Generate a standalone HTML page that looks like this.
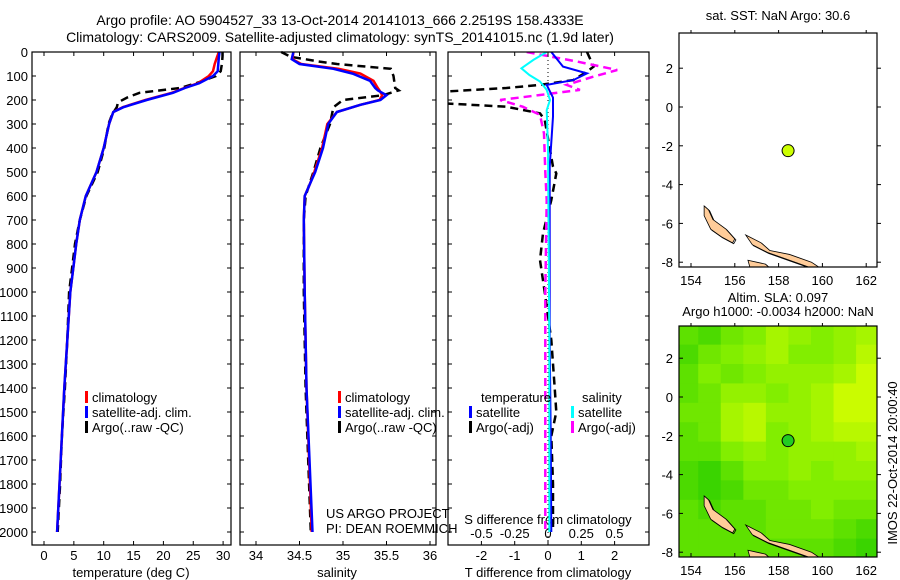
<!DOCTYPE html>
<html><head><meta charset="utf-8"><style>
body{margin:0;background:#fff;}
svg{display:block;font-family:"Liberation Sans",sans-serif;}
</style></head><body>
<svg id="c" width="900" height="580" viewBox="0 0 900 580">
<defs>
<clipPath id="clipTop"><rect x="679" y="33" width="198" height="234"/></clipPath>
<clipPath id="clipBot"><rect x="679" y="326" width="198" height="231"/></clipPath>
<clipPath id="clipDiff"><rect x="448" y="52" width="201" height="493"/></clipPath>
</defs>
<text x="340" y="25" font-size="14" text-anchor="middle">Argo profile: AO 5904527_33 13-Oct-2014 20141013_666 2.2519S 158.4333E</text>
<text x="340" y="42" font-size="14" text-anchor="middle">Climatology: CARS2009. Satellite-adjusted climatology: synTS_20141015.nc (1.9d later)</text>
<g id="g"></g>
</svg>
<script>
// ---- profile data ----
const tDepth=[0,20,50,80,100,130,150,170,200,230,250,300,400,500,600,700,800,900,1000,1200,1400,1600,1800,2000];
const tClim=[29.3,29.0,28.6,28.3,27.6,25.8,23.5,21.4,17.0,13.2,11.6,10.9,10.0,8.8,7.0,6.0,5.4,4.9,4.4,3.9,3.4,3.0,2.6,2.2];
const tSat=[29.4,29.3,29.2,29.1,28.3,26.0,23.6,21.6,17.2,13.3,11.6,10.9,10.0,8.8,7.0,6.0,5.4,4.9,4.4,3.9,3.4,3.0,2.6,2.2];
const tArgoDepth=[0,20,50,80,100,130,150,170,190,210,230,260,300,400,500,600,700,800,900,1000,1200,1400,1600,1800,2000];
const tArgo=[29.9,29.9,29.8,29.6,28.8,25.5,22.8,16.0,13.9,12.4,12.2,11.4,10.8,10.1,9.0,7.1,6.0,5.2,4.7,4.2,3.9,3.5,3.0,2.7,2.3];
const sDepth=[0,30,50,70,90,120,150,160,180,200,220,250,300,400,500,550,600,700,1000,1400,2000];
const sClim=[34.43,34.42,34.52,34.95,35.2,35.35,35.4,35.42,35.45,35.42,35.2,34.93,34.82,34.76,34.67,34.62,34.56,34.55,34.56,34.58,34.64];
const sSat=[34.43,34.41,34.5,34.89,35.11,35.31,35.37,35.4,35.5,35.43,35.2,34.93,34.83,34.77,34.68,34.62,34.56,34.55,34.56,34.58,34.65];
const sArgoDepth=[0,20,40,50,70,100,150,160,180,200,230,300,400,500,600,700,1000,1400,2000];
const sArgo=[34.29,34.4,34.73,34.93,35.55,35.58,35.6,35.64,35.46,35.0,34.89,34.85,34.74,34.66,34.57,34.55,34.55,34.57,34.63];
// ---- difference data ----
const dTSatDepth=[0,61,89,117,137,190,269,478,800,1200,1600,2000];
const dTSat=[0.1,0.45,1.17,0.76,-0.04,0.15,0.15,0.05,0.05,0.05,0.08,0.1];
const dTArgoDepth=[0,61,82,117,137,150,165,214,228,256,283,478,506,617,756,867,1000,1200,1400,1500,1600,1800,2000];
const dTArgo=[1.17,1.37,1.17,0.76,-0.24,-1.25,-3.1,-3.1,-1.25,-0.24,-0.1,0.15,0.25,0.1,-0.15,-0.24,-0.1,0.1,0.2,0.25,0.1,0.15,0.15];
const dSSatDepth=[0,33,68,96,123,158,200,242,400,800,1200,1600,2000];
const dSSat=[-0.01,-0.11,-0.2,-0.14,-0.06,-0.01,0.015,-0.01,0.0,0.005,0.01,0.01,0.01];
const dSArgoDepth=[0,40,75,103,137,158,179,200,228,262,339,500,617,1000,1500,2000];
const dSArgo=[-0.16,0.22,0.52,0.34,0.14,0.24,-0.06,-0.36,-0.19,-0.06,-0.03,-0.02,-0.01,-0.02,-0.02,-0.02];
// ---- axis ticks ----
const depthTicks=[0,100,200,300,400,500,600,700,800,900,1000,1100,1200,1300,1400,1500,1600,1700,1800,1900,2000];
const tempTicks=[0,5,10,15,20,25,30];
const salTicks=[34,34.5,35,35.5,36];
const dTTicks=[-2,-1,0,1,2];
const dSTicks=[-0.5,-0.25,0,0.25,0.5];
const lonTicks=[154,156,158,160,162];
const latTicks=[2,0,-2,-4,-6,-8];
// ---- SLA map grid (rows: lat 3..-8, cols lon 153.5..162.5), 0=green 1=yellow ----
const slaGrid=[
[.3,.2,.4,.5,.7,.6,.5,.6,.7,.8],
[.2,.4,.5,.6,.7,.5,.5,.6,.8,.8],
[.3,.5,.4,.5,.6,.6,.6,.7,.9,.8],
[.3,.4,.6,.6,.5,.6,.7,.9,.9,.9],
[.4,.4,.7,.8,.6,.6,.7,.9,.9,.8],
[.3,.4,.7,.8,.5,.6,.7,.8,.8,.7],
[.3,.3,.5,.6,.5,.6,.6,.6,.7,.7],
[.2,.1,.3,.5,.5,.6,.5,.6,.6,.6],
[.2,.1,.2,.4,.4,.5,.5,.5,.5,.5],
[.3,.2,.3,.3,.4,.4,.5,.4,.4,.4],
[.3,.3,.3,.3,.4,.4,.4,.3,.2,.3],
[.3,.3,.3,.3,.3,.3,.3,.2,.1,.3]];
const argoPos=[158.4333,-2.2519];
const island1=[[154.6,-5.1],[154.8,-5.3],[155.0,-5.8],[155.6,-6.3],[156.0,-6.8],[155.9,-7.0],[155.4,-6.7],[154.9,-6.3],[154.6,-5.6]];
const island2=[[156.5,-6.6],[157.2,-7.0],[157.6,-7.4],[158.5,-7.6],[159.5,-8.0],[159.9,-8.3],[159.5,-8.3],[158.5,-7.9],[157.5,-7.5],[156.8,-7.1]];
const island3=[[156.6,-7.9],[157.0,-8.0],[157.4,-8.1],[157.6,-8.3],[156.7,-8.3]];

const NS='http://www.w3.org/2000/svg';
const G=document.getElementById('g');
function el(tag,attrs,parent){const e=document.createElementNS(NS,tag);for(const k in attrs)e.setAttribute(k,attrs[k]);(parent||G).appendChild(e);return e;}
function txt(x,y,s,size,anchor,name,parent){const t=el('text',{x:x,y:y,'font-size':size,'text-anchor':anchor||'middle'},parent);t.textContent=s;


return t;}
const yD=d=>52+d*0.24;
const BOT=545;
function frame(x0,x1,y0,y1,name){const r=el('rect',{x:x0,y:y0,width:x1-x0,height:y1-y0,fill:'none',stroke:'#000','stroke-width':1.2});

}
function line(depths,vals,xf,color,dash,w,name,parent){const pts=depths.map((d,i)=>xf(vals[i]).toFixed(1)+','+yD(d).toFixed(1)).join(' ');
const p=el('polyline',{points:pts,fill:'none',stroke:color,'stroke-width':w||2.5,'stroke-dasharray':dash||'none'},parent);

}

const xT=t=>44+t*5.97;
const xS=s=>256+(s-34)*87;
const xdT=v=>548+v*33.3;
const xdS=v=>548+v*133;
depthTicks.forEach(d=>{txt(28,yD(d)+5,String(d),13,'end','depth-tick-label');
[[32,36],[231,227],[240,244],[436,432],[448,452],[649,645]].forEach(p=>el('line',{x1:p[0],x2:p[1],y1:yD(d),y2:yD(d),stroke:'#000'}));});
tempTicks.forEach(t=>{txt(xT(t),560,String(t),13,'middle','temp-tick-label');el('line',{x1:xT(t),x2:xT(t),y1:BOT,y2:BOT-4,stroke:'#000'});el('line',{x1:xT(t),x2:xT(t),y1:52,y2:56,stroke:'#000'});});
salTicks.forEach(s=>{txt(xS(s),560,String(s),13,'middle','salinity-tick-label');el('line',{x1:xS(s),x2:xS(s),y1:BOT,y2:BOT-4,stroke:'#000'});el('line',{x1:xS(s),x2:xS(s),y1:52,y2:56,stroke:'#000'});});
dTTicks.forEach(s=>{txt(xdT(s),560,String(s),13,'middle','tdiff-tick-label');el('line',{x1:xdT(s),x2:xdT(s),y1:BOT,y2:BOT-4,stroke:'#000'});el('line',{x1:xdT(s),x2:xdT(s),y1:52,y2:56,stroke:'#000'});});
dSTicks.forEach(s=>{txt(xdS(s),538,String(s),13,'middle','sdiff-tick-label');});
txt(131,577,'temperature (deg C)',13,'middle','temperature-axis-title');
txt(337,577,'salinity',13,'middle','salinity-axis-title');
txt(548,577,'T difference from climatology',13,'middle','tdiff-axis-title');
txt(548,524,'S difference from climatology',13,'middle','sdiff-axis-title');
el('line',{x1:548,x2:548,y1:52,y2:BOT,stroke:'#000','stroke-dasharray':'1,3'});
line(tArgoDepth,tArgo,xT,'#000','8,5',2.5,'temp-argo-line');
line(tDepth,tClim,xT,'#f00','',2.5,'temp-climatology-line');
line(tDepth,tSat,xT,'#00f','',2.5,'temp-satellite-line');
line(sArgoDepth,sArgo,xS,'#000','8,5',2.5,'salinity-argo-line');
line(sDepth,sClim,xS,'#f00','',2.5,'salinity-climatology-line');
line(sDepth,sSat,xS,'#00f','',2.5,'salinity-satellite-line');
const dg=el('g',{'clip-path':'url(#clipDiff)'});
line(dTArgoDepth,dTArgo,xdT,'#000','8,5',2.5,'tdiff-argo-line',dg);
line(dSArgoDepth,dSArgo,xdS,'#f0f','8,5',2.5,'sdiff-argo-line',dg);
line(dTSatDepth,dTSat,xdT,'#00f','',2,'tdiff-satellite-line',dg);
line(dSSatDepth,dSSat,xdS,'#0ff','',2,'sdiff-satellite-line',dg);
frame(32,231,52,BOT,'temperature-panel');
frame(240,436,52,BOT,'salinity-panel');
frame(448,649,52,BOT,'difference-panel');
function leg(x,y,color,label,name){el('rect',{x:x,y:y-11,width:3,height:12,fill:color});txt(x+7,y,label,13,'start',name);}
leg(85,402,'#f00','climatology','legend-climatology');
leg(85,417,'#00f','satellite-adj. clim.','legend-satellite-adj');
leg(85,432,'#000','Argo(..raw -QC)','legend-argo');
leg(338,402,'#f00','climatology','legend-climatology-sal');
leg(338,417,'#00f','satellite-adj. clim.','legend-satellite-adj-sal');
leg(338,432,'#000','Argo(..raw -QC)','legend-argo-sal');
txt(481,402,'temperature',13,'start','legend-temperature-heading');
txt(582,402,'salinity',13,'start','legend-salinity-heading');
leg(469,417,'#00f','satellite','legend-tdiff-satellite');
leg(469,432,'#000','Argo(-adj)','legend-tdiff-argo');
leg(571,417,'#0ff','satellite','legend-sdiff-satellite');
leg(571,432,'#f0f','Argo(-adj)','legend-sdiff-argo');
txt(326,518,'US ARGO PROJECT',13,'start','project-label');
txt(326,533,'PI: DEAN ROEMMICH',13,'start','pi-label');

// maps
const xL=l=>691+(l-154)*21.9;
function drawMap(y0,y1,lat0y,name,withGrid,clip){
 const yL=la=>lat0y-la*19.4;
 const g=el('g',{'clip-path':'url(#'+clip+')'});
 
 
 if(withGrid){
  slaGrid.forEach((row,r)=>row.forEach((v,c)=>{
   const lon=153.3+c*1.03, lat=3.7-r*1.0;
   const rr=Math.round(v<.5?40+(v/.5)*(130-40):130+((v-.5)/.5)*(220-130));
   const gg=Math.round(v<.5?205+(v/.5)*(238-205):238+((v-.5)/.5)*(255-238));
   const cell=el('rect',{x:xL(lon),y:yL(lat),width:21.9*1.03+0.5,height:19.4+0.5,fill:`rgb(${rr},${gg},0)`},g);
   
   
  }));
 }
 [island1,island2,island3].forEach(isl=>{
  el('polygon',{points:isl.map(p=>xL(p[0]+.05)+','+yL(p[1]-.05)).join(' '),fill:'none',stroke:'#000','stroke-width':0.8},g);
  const p=el('polygon',{points:isl.map(p=>xL(p[0])+','+yL(p[1])).join(' '),fill:'#ffcc99',stroke:'#000','stroke-width':0.8},g);
  
  
 });
 const c=el('circle',{cx:xL(argoPos[0]),cy:yL(argoPos[1]),r:6,fill:withGrid?'#22cc22':'#ccff00',stroke:'#000'},g);
 
 
 frame(679,877,y0,y1,name+'-frame');
 lonTicks.forEach(l=>{txt(xL(l),y1+18,String(l),13,'middle','lon-tick-label');el('line',{x1:xL(l),x2:xL(l),y1:y1,y2:y1-4,stroke:'#000'});el('line',{x1:xL(l),x2:xL(l),y1:y0,y2:y0-3,stroke:'#000'});});
 latTicks.forEach(la=>{txt(673,yL(la)+5,String(la),13,'end','lat-tick-label');el('line',{x1:679,x2:683,y1:yL(la),y2:yL(la),stroke:'#000'});el('line',{x1:877,x2:881,y1:yL(la),y2:yL(la),stroke:'#000'});});
}
drawMap(33,267,107,'sst-map',false,'clipTop');
drawMap(326,557,397,'sla-map',true,'clipBot');
txt(778,20,'sat. SST: NaN Argo: 30.6',13,'middle','sst-map-title');
txt(778,302,'Altim. SLA: 0.097',13,'middle','sla-map-title-1');
txt(778,316,'Argo h1000: -0.0034 h2000: NaN',13,'middle','sla-map-title-2');
const im=txt(0,0,'IMOS 22-Oct-2014 20:00:40',13,'middle','imos-timestamp');
im.setAttribute('transform','translate(897,463) rotate(-90)');
</script>
</body></html>
